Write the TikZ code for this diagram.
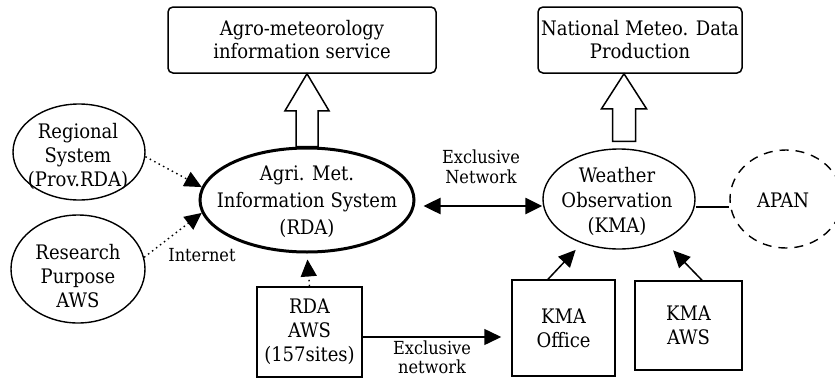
\documentclass[tikz,border=0pt]{standalone}
\usepackage{fontspec}
\IfFontExistsTF{DejaVu Serif Condensed}{\setmainfont{DejaVu Serif Condensed}}{\setmainfont{DejaVu Serif}[FakeStretch=0.88]}
\usetikzlibrary{arrows.meta,shapes.geometric,calc}
\begin{document}
\begin{tikzpicture}[x=1pt,y=-1pt,
  txt/.style={align=center,inner sep=0pt,font=\fontsize{20}{24}\selectfont},
  lbl/.style={align=center,inner sep=0pt,font=\fontsize{18}{20}\selectfont},
  rbox/.style={draw,line width=1.5pt,rounded corners=5pt,inner sep=0pt,align=center,font=\fontsize{20}{23}\selectfont},
  sbox/.style={draw,line width=1.5pt,inner sep=0pt,align=center,font=\fontsize{20}{24}\selectfont},
  ell/.style={draw,ellipse,line width=1.4pt,inner sep=0pt},
  tri/.style={-{Triangle[length=17pt,width=16pt]}},
  dots/.style={line width=1.4pt,dash pattern=on 1.5pt off 3.5pt},
  hollow/.style={draw,line width=1.5pt,fill=white,line join=miter}
]
\useasboundingbox (0,0) rectangle (835,378);

% top boxes
\node[rbox,minimum width=268pt,minimum height=66pt] (T1) at (302,40) {Agro-meteorology\\information service};
\node[rbox,minimum width=204pt,minimum height=66pt] (T2) at (640,40) {National Meteo. Data\\Production};

% ellipses
\node[ell,line width=3pt,minimum width=214pt,minimum height=104pt] (A) at (307,200) {};
\node[txt,font=\fontsize{20}{27}\selectfont] (At) at (307,202) {Agri. Met.\\Information System\\(RDA)};

\node[ell,minimum width=152pt,minimum height=100pt] (W) at (619,199) {};
\node[txt,font=\fontsize{20}{25}\selectfont] (Wt) at (617,201) {Weather\\Observation\\(KMA)};

\node[ell,dashed,dash pattern=on 9pt off 7pt,minimum width=112pt,minimum height=98pt] (P) at (786,199) {};
\node[txt] (Pt) at (783,200) {APAN};

\node[ell,minimum width=132pt,minimum height=96pt] (R) at (79,152) {};
\node[txt] (Rt) at (78,156) {Regional\\System\\(Prov.RDA)};

\node[ell,minimum width=134pt,minimum height=108pt] (S) at (78,269) {};
\node[txt] (St) at (78,276) {Research\\Purpose\\AWS};

% bottom boxes
\node[sbox,minimum width=105pt,minimum height=90pt] (B) at (309.5,332) {RDA\\AWS\\(157sites)};
\node[sbox,minimum width=103pt,minimum height=96pt] (O) at (563.5,328) {KMA\\Office};
\node[sbox,minimum width=107pt,minimum height=89pt] (K) at (688.5,325.5) {KMA\\AWS};

% labels
\node[lbl] (L1) at (481,167) {Exclusive\\Network};
\node[lbl] (L2) at (202,255) {Internet};
\node[lbl,font=\fontsize{18}{19}\selectfont] (L3) at (432,357) {Exclusive\\network};

% hollow arrows
\coordinate (h1b) at (A.north);
\coordinate (h1t) at (h1b |- T1.south);
\draw[hollow] (h1t) -- ($(h1t)+(22,37)$) -- ($(h1t)+(11,37)$) -- ($(h1b)+(11,0)$)
  -- ($(h1b)+(-11,0)$) -- ($(h1t)+(-11,37)$) -- ($(h1t)+(-22,37)$) -- cycle;
\coordinate (h2b) at ($(W.north)+(5,-7)$);
\coordinate (h2t) at (h2b |- T2.south);
\draw[hollow] (h2t) -- ($(h2t)+(22.5,35)$) -- ($(h2t)+(11.5,35)$) -- ($(h2b)+(11.5,0)$)
  -- ($(h2b)+(-11.5,0)$) -- ($(h2t)+(-11.5,35)$) -- ($(h2t)+(-22.5,35)$) -- cycle;

% dotted arrows
\draw[dots,tri] (R.-4) -- (A.173);
\draw[dots,tri] (S.10) -- (A.187);
\draw[dots,tri,shorten >=6pt] (B.north) -- (A.south);

% exclusive network double arrow
\draw[line width=2.5pt,{Triangle[length=17pt,width=16pt]}-{Triangle[length=17pt,width=16pt]}]
  ([xshift=8pt,yshift=-6pt]A.east) -- ([yshift=-7pt]W.west);

% RDA AWS -> KMA Office
\draw[line width=1.5pt,tri,shorten >=10pt] ([yshift=-5pt]B.east) -- ([yshift=-5pt]B.east -| O.west);

% boxes -> Weather
\draw[line width=1.5pt,tri,shorten >=9pt] ([xshift=-15.5pt]O.north) -- (W.230);
\draw[line width=1.5pt,tri,shorten >=14pt] ([xshift=13.5pt]K.north) -- (W.-43);

% Weather -- APAN
\draw[line width=1.5pt] ([yshift=-8pt]W.east) -- ([yshift=-8pt]W.east -| P.west);
\end{tikzpicture}
\end{document}
